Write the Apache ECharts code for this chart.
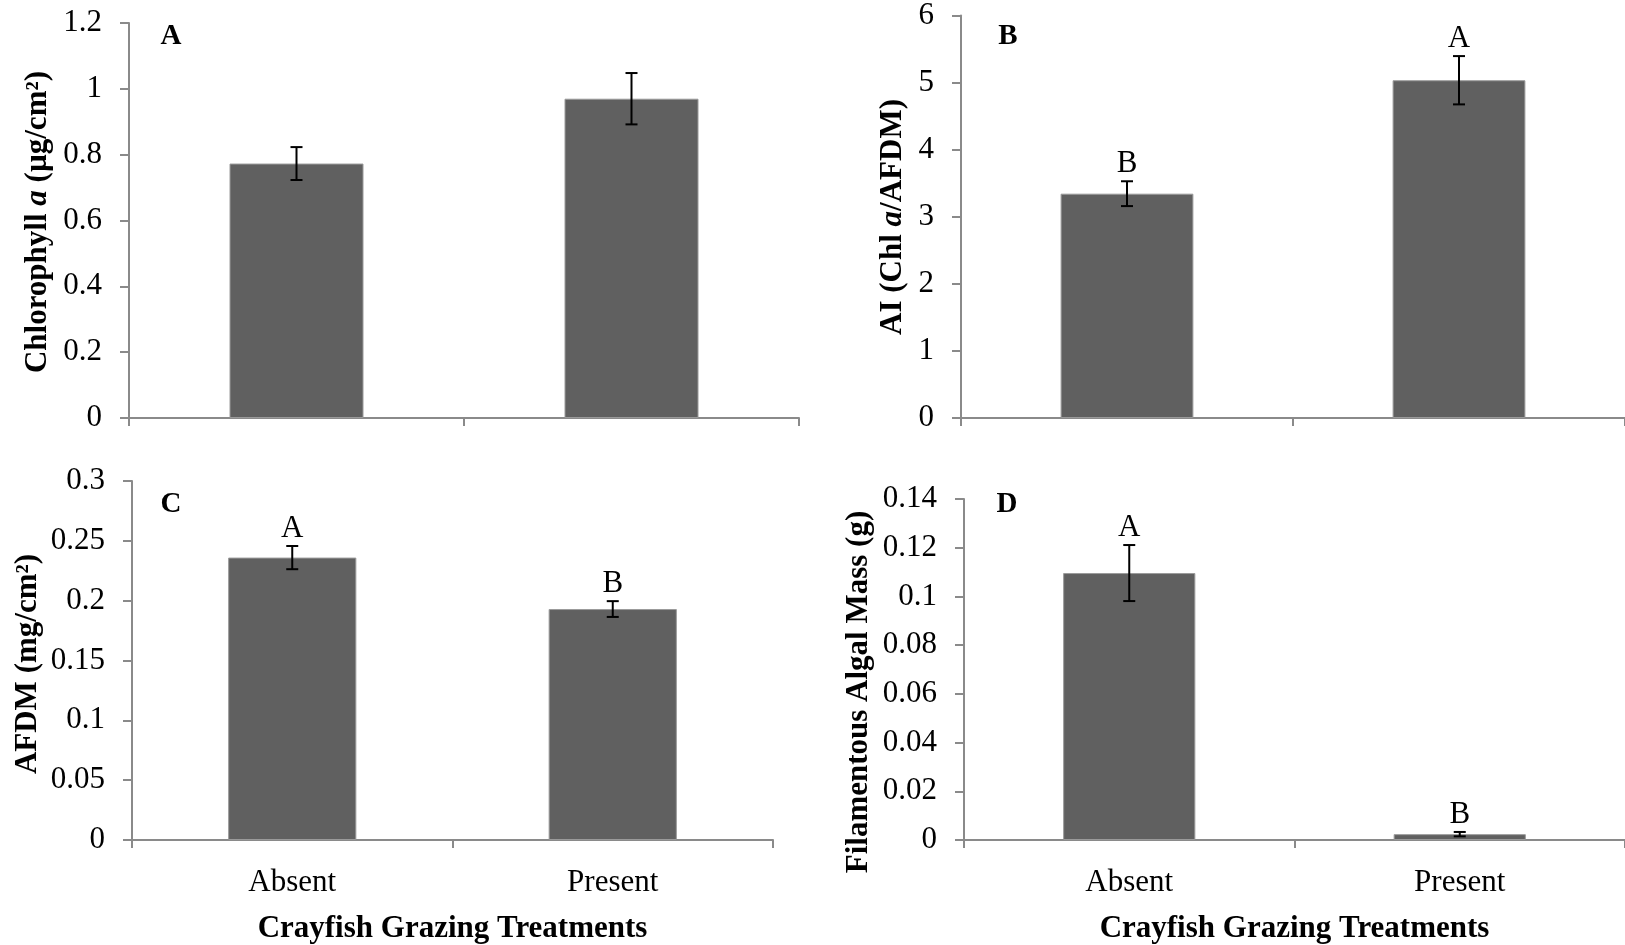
<!DOCTYPE html>
<html>
<head>
<meta charset="utf-8">
<script src="https://cdn.jsdelivr.net/npm/echarts@6/dist/echarts.min.js"></script>
<style>
html,body{margin:0;padding:0;background:#fff;}
#chart{width:1625px;height:945px;}
</style>
</head>
<body>
<div id="chart"></div>
<script>
// ---- data ----
var categories = ['Absent', 'Present'];

var chlA_values = [0.773, 0.970];
var chlA_errors = [0.050, 0.078];
var chlA_letters = ['', ''];

var ai_values = [3.344, 5.035];
var ai_errors = [0.185, 0.360];
var ai_letters = ['B', 'A'];

var afdm_values = [0.236, 0.193];
var afdm_errors = [0.0097, 0.0066];
var afdm_letters = ['A', 'B'];

var alga_values = [0.1096, 0.0024];
var alga_errors = [0.0115, 0.0009];
var alga_letters = ['A', 'B'];

var panelLetters = ['A', 'B', 'C', 'D'];
var yMax = [1.2, 6, 0.3, 0.14];
var yInterval = [0.2, 1, 0.05, 0.02];
var xTitle = 'Crayfish Grazing Treatments';

// ---- layout ----
var FONT = '"Liberation Serif", "Times New Roman", Times, serif';
var grids = [
  {left: 129, top: 23, width: 670, height: 395},
  {left: 961, top: 13, width: 666, height: 405},
  {left: 132, top: 481, width: 641, height: 364},
  {left: 964, top: 499, width: 665, height: 346}
];
var panels = [
  {v: chlA_values, e: chlA_errors, l: chlA_letters, labels: false},
  {v: ai_values, e: ai_errors, l: ai_letters, labels: false},
  {v: afdm_values, e: afdm_errors, l: afdm_letters, labels: true},
  {v: alga_values, e: alga_errors, l: alga_letters, labels: true}
];

var axisColor = '#8a8a8a';
var xAxes = [], yAxes = [], series = [];
panels.forEach(function (p, i) {
  xAxes.push({
    type: 'category', gridIndex: i, data: categories,
    boundaryGap: true,
    axisLine: {show: true, lineStyle: {color: axisColor, width: 2}},
    axisTick: {show: true, length: 8, lineStyle: {color: axisColor, width: 2}},
    axisLabel: {show: p.labels, color: '#000', fontFamily: FONT, fontSize: 31, margin: 27},
    name: p.labels ? xTitle : '',
    nameLocation: 'middle', nameGap: 73,
    nameTextStyle: {color: '#000', fontFamily: FONT, fontSize: 31, fontWeight: 'bold'}
  });
  yAxes.push({
    type: 'value', gridIndex: i, min: 0, max: yMax[i], interval: yInterval[i],
    splitLine: {show: false},
    axisLine: {show: true, lineStyle: {color: axisColor, width: 2}},
    axisTick: {show: true, length: 9, lineStyle: {color: axisColor, width: 2}},
    axisLabel: {color: '#000', fontFamily: FONT, fontSize: 31, margin: 27}
  });
  series.push({
    type: 'bar', xAxisIndex: i, yAxisIndex: i, data: p.v,
    barWidth: '40%',
    itemStyle: {color: '#606060', borderColor: '#9a9a9a', borderWidth: 1},
    silent: true
  });
  series.push({
    type: 'custom', xAxisIndex: i, yAxisIndex: i,
    data: p.v.map(function (v, k) { return [k, v, p.e[k]]; }),
    renderItem: function (params, api) {
      var k = api.value(0), v = api.value(1), e = api.value(2);
      var top = api.coord([k, v + e]);
      var bot = api.coord([k, v - e]);
      var hw = 6;
      var children = [
        {type: 'line', shape: {x1: top[0], y1: top[1], x2: bot[0], y2: bot[1]}, style: {stroke: '#000', lineWidth: 2}},
        {type: 'line', shape: {x1: top[0] - hw, y1: top[1], x2: top[0] + hw, y2: top[1]}, style: {stroke: '#000', lineWidth: 2}},
        {type: 'line', shape: {x1: bot[0] - hw, y1: bot[1], x2: bot[0] + hw, y2: bot[1]}, style: {stroke: '#000', lineWidth: 2}}
      ];
      var letter = p.l[k];
      if (letter) {
        children.push({type: 'text', x: top[0], y: top[1] - 2,
          style: {text: letter, font: '31px ' + FONT, fill: '#000', align: 'center', verticalAlign: 'bottom'}});
      }
      return {type: 'group', children: children};
    },
    z: 5, silent: true
  });
});

var richTitle = {
  b: {fontFamily: FONT, fontSize: 31, fontWeight: 'bold', fill: '#000'},
  bi: {fontFamily: FONT, fontSize: 31, fontWeight: 'bold', fontStyle: 'italic', fill: '#000'}
};
var yTitles = [
  {x: 38, y: 222, text: '{b|Chlorophyll }{bi|a}{b| (µg/cm²)}'},
  {x: 893, y: 217, text: '{b|AI (Chl }{bi|a}{b|/AFDM)}'},
  {x: 28, y: 664, text: '{b|AFDM (mg/cm²)}'},
  {x: 859, y: 692, text: '{b|Filamentous Algal Mass (g)}'}
];
var graphics = [];
yTitles.forEach(function (t) {
  graphics.push({type: 'text', x: t.x, y: t.y, rotation: Math.PI / 2,
    style: {text: t.text, rich: richTitle, align: 'center', verticalAlign: 'middle', fill: '#000'}});
});
var letterPos = [[171, 37], [1008, 37], [171, 505], [1007, 505]];
panelLetters.forEach(function (L, i) {
  graphics.push({type: 'text', x: letterPos[i][0], y: letterPos[i][1],
    style: {text: L, font: 'bold 29px ' + FONT, fill: '#000', align: 'center', verticalAlign: 'middle'}});
});

var chart = echarts.init(document.getElementById('chart'), null, {renderer: 'canvas'});
chart.setOption({
  animation: false,
  backgroundColor: '#fff',
  grid: grids,
  xAxis: xAxes,
  yAxis: yAxes,
  series: series,
  graphic: graphics
});
</script>
</body>
</html>
